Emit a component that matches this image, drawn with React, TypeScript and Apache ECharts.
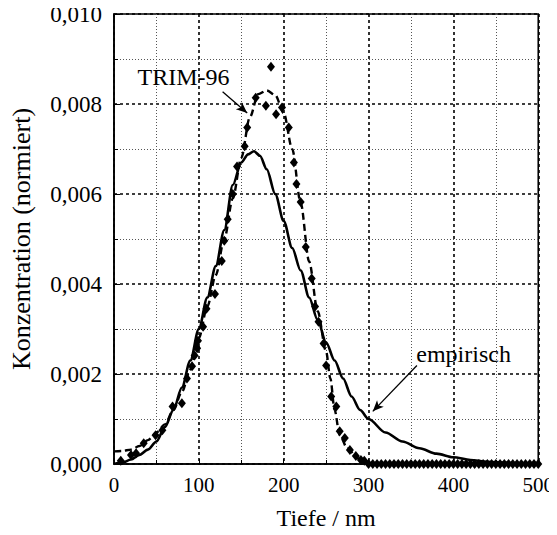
import React, { useEffect, useRef } from "react";
import * as echarts from "echarts";

// empirical curve (solid)
const empX = [0, 10, 20, 30, 40, 50, 60, 70, 80, 90, 100, 110, 120, 130, 140, 150, 158, 165, 172, 180, 190, 200, 210, 220, 230, 240, 250, 260, 270, 280, 290, 300, 320, 340, 360, 380, 400, 420, 440, 460, 480, 500];
const empY = [0, 0.00003, 0.0001, 0.0002, 0.00032, 0.0005, 0.00082, 0.0012, 0.0017, 0.0023, 0.003, 0.0037, 0.0044, 0.0052, 0.0062, 0.0067, 0.00688, 0.00695, 0.00685, 0.00655, 0.006, 0.0054, 0.0048, 0.0043, 0.0037, 0.0032, 0.0027, 0.0023, 0.0019, 0.0015, 0.0012, 0.001, 0.0007, 0.0005, 0.00035, 0.00023, 0.00015, 0.00009, 0.00005, 0.00003, 0.00001, 0];

// TRIM-96 fitted curve (dashed)
const trimLineX = [0, 10, 20, 30, 40, 50, 60, 70, 80, 90, 100, 110, 120, 130, 140, 150, 160, 170, 180, 190, 200, 210, 220, 230, 240, 250, 255, 260, 266, 275, 287, 300, 400, 500];
const trimLineY = [0.00028, 0.00029, 0.00032, 0.0004, 0.00053, 0.0007, 0.00088, 0.0012, 0.0016, 0.0021, 0.0028, 0.0035, 0.0042, 0.005, 0.0059, 0.0068, 0.0077, 0.00822, 0.0083, 0.0082, 0.0078, 0.007, 0.0058, 0.0045, 0.0034, 0.0025, 0.0019, 0.0012, 0.00064, 0.00035, 0.00013, 0, 0, 0];

// TRIM-96 simulated points (diamonds)
const trimPtsX = [8, 20, 26, 35, 49, 57, 69, 80, 86, 92, 95, 98, 99, 105, 109, 119, 127, 130, 134, 140, 145, 154, 157, 167, 179, 185, 191, 198, 206, 212, 215, 220, 226, 233, 237, 241, 247, 250, 256, 262, 266, 272, 278, 285, 291, 295,
  300, 305, 310, 315, 320, 325, 330, 335, 340, 345, 350, 355, 360, 365, 370, 375, 380, 385, 390, 395, 400, 405, 410, 415, 420, 425, 430, 435, 440, 445, 450, 455, 460, 465, 470, 475, 480, 485, 490, 495, 500];
const trimPtsY = [0.00007, 0.0002, 0.00024, 0.00046, 0.00064, 0.00075, 0.00128, 0.00135, 0.0019, 0.00217, 0.00241, 0.00257, 0.00274, 0.00305, 0.00345, 0.00378, 0.00451, 0.00496, 0.00544, 0.006, 0.00661, 0.00706, 0.00748, 0.00814, 0.00796, 0.00883, 0.00777, 0.00792, 0.00748, 0.0067, 0.00622, 0.00582, 0.00482, 0.00412, 0.0035, 0.00316, 0.00268, 0.00219, 0.0015, 0.00128, 0.00073, 0.00058, 0.00031, 0.00018, 0.00009, 0.00007,
  0, 0, 0, 0, 0, 0, 0, 0, 0, 0, 0, 0, 0, 0, 0, 0, 0, 0, 0, 0, 0, 0, 0, 0, 0, 0, 0, 0, 0, 0, 0, 0, 0, 0, 0, 0, 0, 0, 0, 0, 0];

const xTicks = [0, 100, 200, 300, 400, 500];
const yTickLabels = ["0,000", "0,002", "0,004", "0,006", "0,008", "0,010"];

// annotations: label position, arrow start, arrow end (data coords)
const trimLabel = { text: "TRIM-96", at: [82, 0.0086] };
const trimArrow = [[128, 0.00827], [157, 0.0078]];
const empLabel = { text: "empirisch", at: [412, 0.00245] };
const empArrow = [[357, 0.00219], [305, 0.00117]];

const FONT = "Liberation Serif";

export default function App() {
  const ref = useRef<HTMLDivElement>(null);
  useEffect(() => {
    if (!ref.current) return;
    const chart = echarts.init(ref.current, null, { renderer: "svg" });
    const zip = (xs: number[], ys: number[]) => xs.map((x, i) => [x, ys[i]]);
    const majorSplit = { show: true, lineStyle: { color: "#000", width: 1.6, type: [3, 3] as any } };
    const minorSplit = { show: true, lineStyle: { color: "#555", width: 1, type: [1, 2] as any } };
    chart.setOption({
      animation: false,
      backgroundColor: "#fff",
      textStyle: { fontFamily: FONT },
      grid: { left: 113, right: 14, top: 14, bottom: 69, show: true, borderColor: "#000", borderWidth: 1.6, backgroundColor: "transparent" },
      xAxis: {
        type: "value",
        min: 0,
        max: 500,
        interval: 100,
        name: "Tiefe / nm",
        nameLocation: "middle",
        nameGap: 42,
        nameTextStyle: { fontFamily: FONT, fontSize: 24, color: "#000" },
        axisLine: { show: true, onZero: false, lineStyle: { color: "#000", width: 1.6 } },
        axisTick: { show: true, inside: true, length: 5, lineStyle: { color: "#000" } },
        minorTick: { show: true, splitNumber: 2, length: 4, lineStyle: { color: "#000" } },
        axisLabel: {
          fontFamily: FONT, fontSize: 21, color: "#000", margin: 10,
          formatter: (v: number) => (xTicks.includes(v) ? String(v) : ""),
        },
        splitLine: majorSplit,
        minorSplitLine: minorSplit,
      },
      yAxis: {
        type: "value",
        min: 0,
        max: 0.01,
        interval: 0.002,
        name: "Konzentration (normiert)",
        nameLocation: "middle",
        nameGap: 80,
        nameTextStyle: { fontFamily: FONT, fontSize: 26, color: "#000" },
        axisLine: { show: true, lineStyle: { color: "#000", width: 1.6 } },
        axisTick: { show: true, inside: true, length: 6, lineStyle: { color: "#000" } },
        minorTick: { show: true, splitNumber: 2, length: 4, lineStyle: { color: "#000" } },
        axisLabel: {
          fontFamily: FONT, fontSize: 23, color: "#000", margin: 12,
          formatter: (v: number) => yTickLabels[Math.round(v / 0.002)] ?? "",
        },
        splitLine: majorSplit,
        minorSplitLine: minorSplit,
      },
      series: [
        {
          name: "empirisch",
          type: "line",
          data: zip(empX, empY),
          smooth: 0.3,
          smoothMonotone: "x",
          showSymbol: false,
          lineStyle: { color: "#000", width: 2.6 },
          z: 3,
          markLine: {
            silent: true,
            symbol: ["none", "arrow"],
            symbolSize: [7, 11],
            label: { show: false },
            lineStyle: { color: "#000", width: 1.3, type: "solid" },
            data: [
              [{ coord: empArrow[0] }, { coord: empArrow[1] }],
              [{ coord: trimArrow[0] }, { coord: trimArrow[1] }],
            ],
          },
          markPoint: {
            silent: true,
            symbol: "circle",
            symbolSize: 1,
            itemStyle: { color: "transparent" },
            label: { show: true, fontFamily: FONT, fontSize: 24, color: "#000", position: "inside" },
            data: [
              { coord: trimLabel.at, value: trimLabel.text, label: { formatter: trimLabel.text } },
              { coord: empLabel.at, value: empLabel.text, label: { formatter: empLabel.text } },
            ],
          },
        },
        {
          name: "TRIM-96",
          type: "line",
          data: zip(trimLineX, trimLineY),
          smooth: 0.3,
          smoothMonotone: "x",
          showSymbol: false,
          lineStyle: { color: "#000", width: 2.4, type: [7, 4] },
          z: 3,
        },
        {
          name: "TRIM-96 Punkte",
          type: "scatter",
          data: zip(trimPtsX, trimPtsY),
          symbol: "diamond",
          symbolSize: [8, 10],
          itemStyle: { color: "#000", opacity: 1 },
          z: 4,
        },
      ],
    });
    return () => chart.dispose();
  }, []);
  return <div ref={ref} style={{ width: 557, height: 535, margin: -8 }} />;
}
